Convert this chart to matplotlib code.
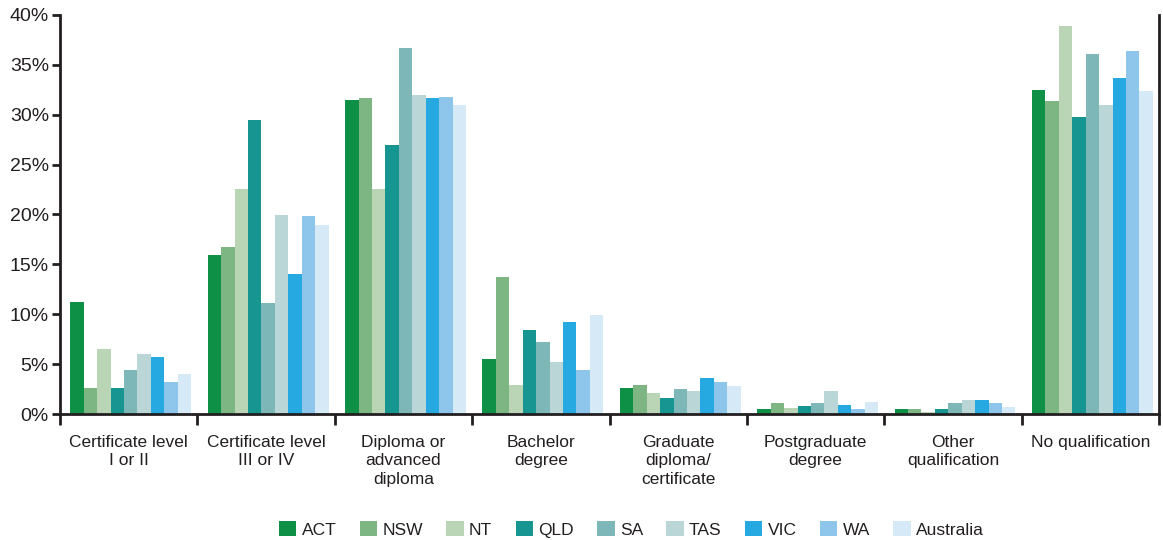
import numpy as np
import matplotlib.pyplot as plt
from matplotlib.ticker import FixedLocator, PercentFormatter

categories = ['Certificate level\nI or II', 'Certificate level\nIII or IV',
              'Diploma or\nadvanced\ndiploma', 'Bachelor\ndegree',
              'Graduate\ndiploma/\ncertificate', 'Postgraduate\ndegree',
              'Other\nqualification', 'No qualification']
states = ['ACT', 'NSW', 'NT', 'QLD', 'SA', 'TAS', 'VIC', 'WA', 'Australia']
colors = ['#0E9146', '#7DB683', '#BAD5B6', '#179591', '#7EB7B7',
          '#BBD6D7', '#25A9E0', '#8DC5EB', '#D5E9F7']

# share (%) by qualification, one list per state
act = [11.2, 15.9, 31.5, 5.5, 2.6, 0.5, 0.5, 32.5]
nsw = [2.6, 16.7, 31.7, 13.7, 2.9, 1.1, 0.5, 31.4]
nt = [6.5, 22.6, 22.6, 2.9, 2.1, 0.6, 0.2, 38.9]
qld = [2.6, 29.5, 27.0, 8.4, 1.6, 0.8, 0.5, 29.8]
sa = [4.4, 11.1, 36.7, 7.2, 2.5, 1.1, 1.1, 36.1]
tas = [6.0, 19.9, 32.0, 5.2, 2.3, 2.3, 1.4, 31.0]
vic = [5.7, 14.0, 31.7, 9.2, 3.6, 0.9, 1.4, 33.7]
wa = [3.2, 19.8, 31.8, 4.4, 3.2, 0.5, 1.1, 36.4]
aus = [4.0, 18.9, 31.0, 9.9, 2.8, 1.2, 0.7, 32.4]
series = [act, nsw, nt, qld, sa, tas, vic, wa, aus]

plt.rcParams['font.family'] = ['Liberation Sans', 'DejaVu Sans']

fig = plt.figure(figsize=(11.63, 5.40), dpi=100)
ax = fig.add_axes([0.0516, 0.2333, 0.945, 0.739])

x = np.arange(len(categories))
w = 0.88 / len(states)
for i, (name, vals) in enumerate(zip(states, series)):
    ax.bar(x - 0.44 + w * (i + 0.5) + 0.015, vals, width=w, color=colors[i],
           label=name, zorder=2)

ax.set_xlim(-0.5, len(categories) - 0.5)
ax.set_ylim(0, 40)
ax.yaxis.set_major_locator(FixedLocator(np.arange(0, 41, 5)))
ax.yaxis.set_major_formatter(PercentFormatter(decimals=0))

ax.set_xticks(np.arange(-0.5, len(categories)))
ax.set_xticklabels([])
ax.set_xticks(x, minor=True)
ax.set_xticklabels(categories, minor=True, fontsize=12.5, color='#231F20', linespacing=1.3)
ax.tick_params(axis='x', which='major', length=8, width=2, color='#231F20', direction='out')
ax.tick_params(axis='x', which='minor', length=0, pad=15)
ax.tick_params(axis='y', length=6, width=2, color='#231F20', labelsize=14,
               labelcolor='#231F20', pad=2)

ax.spines['top'].set_visible(False)
for s in ['left', 'bottom', 'right']:
    ax.spines[s].set_linewidth(2)
    ax.spines[s].set_color('#231F20')

leg = fig.legend(loc='center', bbox_to_anchor=(0.543, 0.02), ncol=9, frameon=False,
                 handlelength=1.0, handleheight=1.0, handletextpad=0.3, columnspacing=1.35,
                 prop={'size': 12.5})
for t in leg.get_texts():
    t.set_color('#231F20')

fig.savefig('out.png', dpi=100)
